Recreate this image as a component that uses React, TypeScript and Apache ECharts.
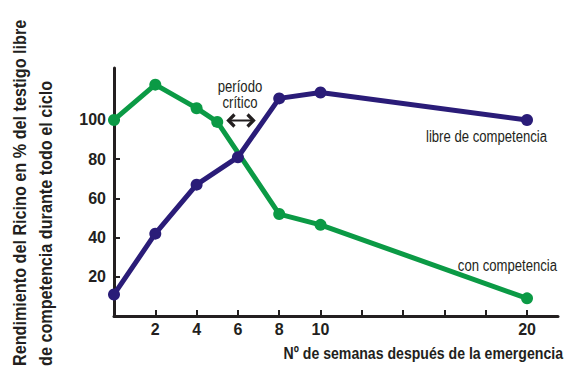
import React, { useEffect, useRef } from "react";
import * as echarts from "echarts";

const FONT = '"Liberation Sans", Arial, sans-serif';
const INK = "#231f20";
const BLUE = "#2a1c78";
const GREEN = "#0b9a45";

// weeks after emergence and yield (% of weed-free check)
const libreWeeks = [0, 2, 4, 6, 8, 10, 20];
const libreValues = [11, 42, 67, 81, 111, 114, 100];
const conWeeks = [0, 2, 4, 5, 8, 10, 20];
const conValues = [100, 118, 106, 99, 52, 46.5, 9];

const yTicks = [20, 40, 60, 80, 100];
const xTicks = [2, 4, 6, 8, 10, 12, 14, 16, 18, 20];
const xLabels = [2, 4, 6, 8, 10, 20];

const yTitle1 = "Rendimiento del Ricino en % del testigo libre";
const yTitle2 = "de competencia durante todo el ciclo";
const xTitle = "Nº de semanas después de la emergencia";
const libreName = "libre de competencia";
const conName = "con competencia";
const periodo1 = "período";
const periodo2 = "crítico";

export default function App() {
  const ref = useRef<HTMLDivElement>(null);
  useEffect(() => {
    if (!ref.current) return;
    const chart = echarts.init(ref.current, null, { renderer: "svg" });
    const arrowStyle = { stroke: INK, lineWidth: 3.2, fill: "none" };
    const narrow = 0.82;
    const txt = (
      text: string,
      x: number,
      y: number,
      font: string,
      align: string,
      scaleX: number,
      rotation = 0
    ) => ({
      type: "text",
      x,
      y,
      rotation,
      scaleX,
      style: { text, fill: INK, font, align, verticalAlign: "middle" },
    });
    chart.setOption({
      animation: false,
      backgroundColor: "#ffffff",
      grid: { left: 114, right: 9, top: 68, bottom: 52 },
      xAxis: {
        type: "value",
        min: 0,
        max: 21.5,
        splitLine: { show: false },
        axisLine: { show: true, lineStyle: { color: INK, width: 3 } },
        axisTick: {
          show: true,
          inside: true,
          length: 6,
          lineStyle: { color: INK, width: 2 },
          customValues: xTicks,
        },
        axisLabel: {
          customValues: xLabels,
          color: INK,
          fontFamily: FONT,
          fontWeight: "bold",
          fontSize: 16,
          margin: 5,
        },
      },
      yAxis: {
        type: "value",
        min: 0,
        max: 126.5,
        splitLine: { show: false },
        axisLine: { show: true, lineStyle: { color: INK, width: 3 } },
        axisTick: {
          show: true,
          inside: true,
          length: 6,
          lineStyle: { color: INK, width: 2 },
          customValues: yTicks,
        },
        axisLabel: {
          customValues: yTicks,
          color: INK,
          fontFamily: FONT,
          fontWeight: "bold",
          fontSize: 16,
          margin: 8,
        },
      },
      series: [
        {
          name: conName,
          type: "line",
          data: conWeeks.map((w, i) => [w, conValues[i]]),
          symbol: "circle",
          symbolSize: 12,
          clip: false,
          lineStyle: { color: GREEN, width: 5 },
          itemStyle: { color: GREEN },
          z: 2,
        },
        {
          name: libreName,
          type: "line",
          data: libreWeeks.map((w, i) => [w, libreValues[i]]),
          symbol: "circle",
          symbolSize: 12,
          clip: false,
          lineStyle: { color: BLUE, width: 5 },
          itemStyle: { color: BLUE },
          z: 3,
        },
      ],
      graphic: [
        txt(yTitle1, 20, 366, `bold 18px ${FONT}`, "left", 0.9, Math.PI / 2),
        txt(yTitle2, 46, 366, `bold 18px ${FONT}`, "left", 0.9, Math.PI / 2),
        txt(xTitle, 563, 353, `bold 17px ${FONT}`, "right", 0.83),
        txt(periodo1, 240, 87, `16px ${FONT}`, "center", narrow),
        txt(periodo2, 240, 103, `16px ${FONT}`, "center", narrow),
        txt(libreName, 547, 137, `16px ${FONT}`, "right", narrow),
        txt(conName, 557, 266, `16px ${FONT}`, "right", narrow),
        {
          type: "group",
          x: 227,
          y: 114,
          children: [
            { type: "polyline", shape: { points: [[7.5, 0.5], [1.5, 6.5], [7.5, 12.5]] }, style: arrowStyle },
            { type: "polyline", shape: { points: [[20.5, 0.5], [26.5, 6.5], [20.5, 12.5]] }, style: arrowStyle },
            { type: "line", shape: { x1: 3, y1: 6.5, x2: 25, y2: 6.5 }, style: { stroke: INK, lineWidth: 2 } },
          ],
        },
      ],
    });
    return () => chart.dispose();
  }, []);
  return (
    <div
      ref={ref}
      style={{ position: "absolute", left: 0, top: 0, width: 567, height: 368 }}
    />
  );
}
